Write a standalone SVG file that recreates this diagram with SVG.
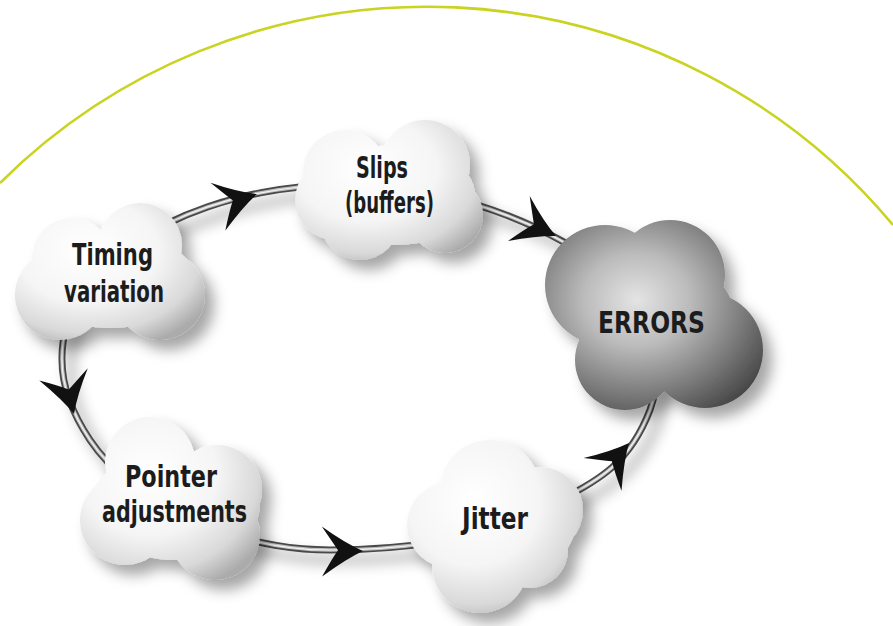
<svg xmlns="http://www.w3.org/2000/svg" xmlns:xlink="http://www.w3.org/1999/xlink" width="893" height="626" viewBox="0 0 893 626">
  <defs>
    <style>
      .label { font-family: "DejaVu Sans Condensed", "DejaVu Sans", "Liberation Sans", sans-serif; font-stretch: condensed; font-weight: bold; font-size: 31px; fill: #1c1c1c; }
      .tube-outer { fill: none; stroke: #4a4a4a; stroke-width: 7; }
      .tube-inner { fill: none; stroke: #bdbdbd; stroke-width: 3.4; }
      .tube-shine { fill: none; stroke: #f4f4f4; stroke-width: 1.2; }
      .arrowhead { fill: #111; }
    </style>
    <radialGradient id="lightCloud" cx="0.38" cy="0.35" r="0.75">
      <stop offset="0" stop-color="#ffffff"/>
      <stop offset="0.5" stop-color="#f5f5f5"/>
      <stop offset="0.8" stop-color="#d9d9d9"/>
      <stop offset="1" stop-color="#ababab"/>
    </radialGradient>
    <radialGradient id="darkCloud" cx="0.42" cy="0.42" r="0.7">
      <stop offset="0" stop-color="#e4e4e4"/>
      <stop offset="0.35" stop-color="#bbbbbb"/>
      <stop offset="0.7" stop-color="#7c7c7c"/>
      <stop offset="1" stop-color="#454545"/>
    </radialGradient>
    <filter id="softShadow" x="-30%" y="-30%" width="170%" height="170%">
      <feGaussianBlur in="SourceAlpha" stdDeviation="7"/>
      <feOffset dx="9" dy="10" result="off"/>
      <feFlood flood-color="#000" flood-opacity="0.35"/>
      <feComposite in2="off" operator="in"/>
      <feMerge>
        <feMergeNode/>
        <feMergeNode in="SourceGraphic"/>
      </feMerge>
    </filter>
    <path id="loop" d="M62,360 C60,270 170,200 300,187 C420,176 520,212 590,258 C650,298 668,360 650,410 C630,462 600,480 560,500 C500,535 420,550 330,550 C230,550 130,500 90,440 C70,410 62,385 62,360 Z"/>
    <path id="arrowShape" d="M0,0 Q-18,-7 -42,-23 Q-31,-8 -25,0 Q-31,9 -40,27 Q-16,8 0,0 Z"/>
  </defs>

  <rect width="893" height="626" fill="#ffffff"/>

  <!-- outer yellow-green boundary arc -->
  <path d="M0,183 A606,606 0 0 1 893,225" fill="none" stroke="#c9d320" stroke-width="2.6"/>

  <!-- connectors: the tube loop and its arrowheads -->
  <g id="connectors">
    <g filter="url(#softShadow)">
      <use xlink:href="#loop" class="tube-outer"/>
    </g>
    <use xlink:href="#loop" class="tube-inner"/>
    <use xlink:href="#loop" class="tube-shine"/>
    <use xlink:href="#arrowShape" class="arrowhead" transform="translate(257,194) rotate(-15)"/>
    <use xlink:href="#arrowShape" class="arrowhead" transform="translate(556,236) rotate(28)"/>
    <use xlink:href="#arrowShape" class="arrowhead" transform="translate(629,443) rotate(-47)"/>
    <use xlink:href="#arrowShape" class="arrowhead" transform="translate(363,551) rotate(2)"/>
    <use xlink:href="#arrowShape" class="arrowhead" transform="translate(74,414) rotate(78)"/>
  </g>

  <g id="timing-variation">
    <path filter="url(#softShadow)" fill="url(#lightCloud)" d="M25,280 a85,48 0 1 0 170,0 a85,48 0 1 0 -170,0Z M32,258 a40,40 0 1 0 80,0 a40,40 0 1 0 -80,0Z M98,245 a42,42 0 1 0 84,0 a42,42 0 1 0 -84,0Z M115,295 a45,45 0 1 0 90,0 a45,45 0 1 0 -90,0Z M15,295 a45,45 0 1 0 90,0 a45,45 0 1 0 -90,0Z"/>
    <text class="label" x="72" y="265" textLength="81" lengthAdjust="spacingAndGlyphs">Timing</text>
    <text class="label" x="64" y="302" textLength="100" lengthAdjust="spacingAndGlyphs">variation</text>
  </g>

  <g id="slips">
    <path filter="url(#softShadow)" fill="url(#lightCloud)" d="M315,195 a80,50 0 1 0 160,0 a80,50 0 1 0 -160,0Z M303,172 a42,42 0 1 0 84,0 a42,42 0 1 0 -84,0Z M380,165 a45,45 0 1 0 90,0 a45,45 0 1 0 -90,0Z M407,215 a38,38 0 1 0 76,0 a38,38 0 1 0 -76,0Z M320,220 a40,40 0 1 0 80,0 a40,40 0 1 0 -80,0Z M295,200 a40,40 0 1 0 80,0 a40,40 0 1 0 -80,0Z"/>
    <text class="label" x="356" y="178" textLength="52" lengthAdjust="spacingAndGlyphs">Slips</text>
    <text class="label" x="345" y="213" textLength="89" lengthAdjust="spacingAndGlyphs">(buffers)</text>
  </g>

  <g id="errors">
    <path filter="url(#softShadow)" fill="url(#darkCloud)" d="M575,320 a80,65 0 1 0 160,0 a80,65 0 1 0 -160,0Z M545,285 a60,60 0 1 0 120,0 a60,60 0 1 0 -120,0Z M615,275 a55,55 0 1 0 110,0 a55,55 0 1 0 -110,0Z M647,350 a58,58 0 1 0 116,0 a58,58 0 1 0 -116,0Z M575,360 a50,50 0 1 0 100,0 a50,50 0 1 0 -100,0Z"/>
    <text class="label" x="598" y="333" textLength="107" lengthAdjust="spacingAndGlyphs">ERRORS</text>
  </g>

  <g id="pointer-adjustments">
    <path filter="url(#softShadow)" fill="url(#lightCloud)" d="M90,505 a85,55 0 1 0 170,0 a85,55 0 1 0 -170,0Z M105,462 a45,45 0 1 0 90,0 a45,45 0 1 0 -90,0Z M172,490 a45,45 0 1 0 90,0 a45,45 0 1 0 -90,0Z M170,535 a45,45 0 1 0 90,0 a45,45 0 1 0 -90,0Z M80,520 a45,45 0 1 0 90,0 a45,45 0 1 0 -90,0Z"/>
    <text class="label" x="125" y="487" textLength="92" lengthAdjust="spacingAndGlyphs">Pointer</text>
    <text class="label" x="102" y="522" textLength="145" lengthAdjust="spacingAndGlyphs">adjustments</text>
  </g>

  <g id="jitter">
    <path filter="url(#softShadow)" fill="url(#lightCloud)" d="M415,525 a80,55 0 1 0 160,0 a80,55 0 1 0 -160,0Z M440,490 a50,50 0 1 0 100,0 a50,50 0 1 0 -100,0Z M497,510 a43,43 0 1 0 86,0 a43,43 0 1 0 -86,0Z M432,565 a48,48 0 1 0 96,0 a48,48 0 1 0 -96,0Z M407,525 a43,43 0 1 0 86,0 a43,43 0 1 0 -86,0Z M492,550 a38,38 0 1 0 76,0 a38,38 0 1 0 -76,0Z"/>
    <text class="label" x="462" y="529" textLength="66" lengthAdjust="spacingAndGlyphs">Jitter</text>
  </g>
</svg>
